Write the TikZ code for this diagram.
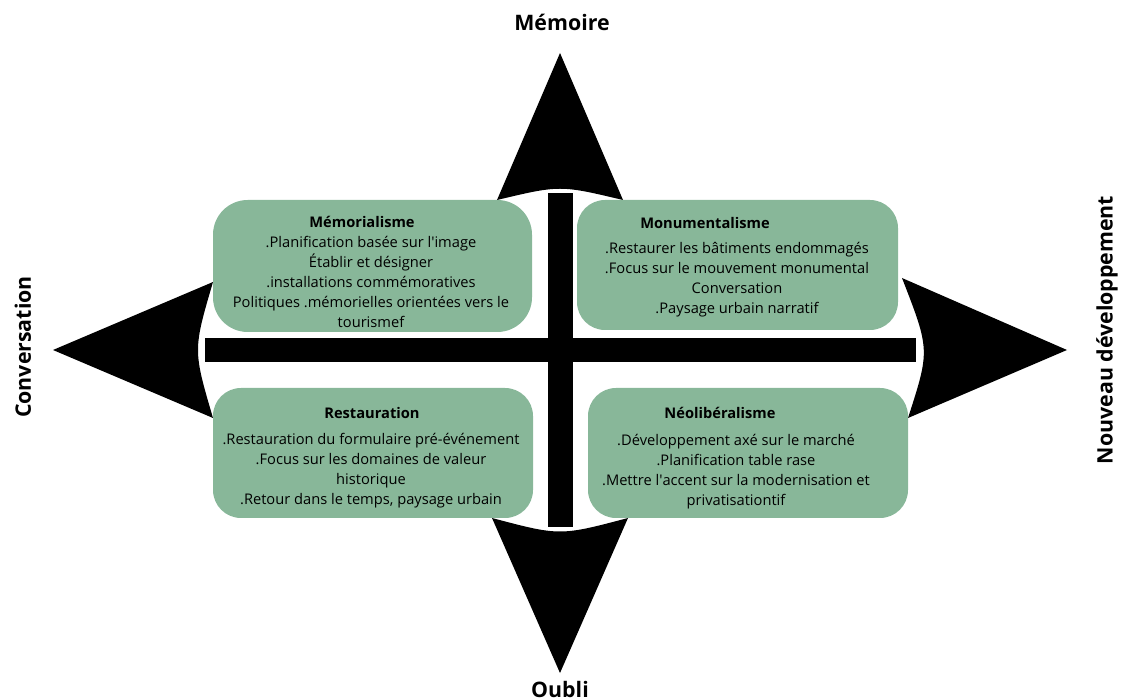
\documentclass[tikz,border=0pt]{standalone}
\usepackage{fontspec}
\setmainfont{Open Sans}
\definecolor{boxgreen}{RGB}{136,183,153}
\begin{document}
\begin{tikzpicture}[x=0.75pt,y=-0.75pt,
  arrowhead/.style={fill=black},
  crossbar/.style={fill=black},
  card/.style={fill=boxgreen, rounded corners=21pt},
  cardtitle/.style={font=\fontsize{11}{15}\selectfont\bfseries, inner sep=0pt},
  cardbody/.style={font=\fontsize{11}{15}\selectfont, align=center, inner sep=0pt},
  axislabel/.style={font=\fontsize{16}{19}\selectfont\bfseries, inner sep=0pt}]
\useasboundingbox (0,0) rectangle (1122,698);

% arrowheads with concave bases
\fill[arrowhead] (560,53) -- (623,200) .. controls (560,185) .. (497,200) -- cycle;
\fill[arrowhead] (560,673) -- (492,518) .. controls (560,536) .. (628,518) -- cycle;
\fill[arrowhead] (53,350) -- (213,282) .. controls (193,350) .. (213,418) -- cycle;
\fill[arrowhead] (1067,350) -- (902,278) .. controls (930,350) .. (908,418) -- cycle;

% cross
\fill[crossbar] (205,338) rectangle (916,362);
\fill[crossbar] (548,193) rectangle (573,527);

% cards
\fill[card, rounded corners=26pt] (213,200) rectangle (532,332);
\fill[card] (577,200) rectangle (898,330);
\fill[card] (213,388) rectangle (533,518);
\fill[card] (588,388) rectangle (908,518);

% card texts
\node[cardtitle] (t1) at (362,222) {Mémorialisme};
\node[cardbody] (b1) at (371,282) {.Planification basée sur l\textquotesingle image\\Établir et désigner\\.installations commémoratives\\Politiques .mémorielles orientées vers le\\tourismef};

\node[cardtitle] (t2) at (705,223) {Monumentalisme};
\node[cardbody] (b2) at (737,280) {.Restaurer les bâtiments endommagés\\.Focus sur le mouvement monumental\\Conversation\\.Paysage urbain narratif};

\node[cardtitle] (t3) at (372,413) {Restauration};
\node[cardbody] (b3) at (371,471) {.Restauration du formulaire pré-événement\\.Focus sur les domaines de valeur\\historique\\.Retour dans le temps, paysage urbain};

\node[cardtitle] (t4) at (720,413) {Néolibéralisme};
\node[cardbody] (b4) at (736,472) {.Développement axé sur le marché\\.Planification table rase\\.Mettre l\textquotesingle accent sur la modernisation et\\privatisationtif};

% axis labels
\node[axislabel] (top) at (562,22) {Mémoire};
\node[axislabel] (bottom) at (560,689) {Oubli};
\node[axislabel, rotate=90] (left) at (23,347) {Conversation};
\node[axislabel, rotate=90] (right) at (1107,330) {Nouveau développement};
\end{tikzpicture}
\end{document}
